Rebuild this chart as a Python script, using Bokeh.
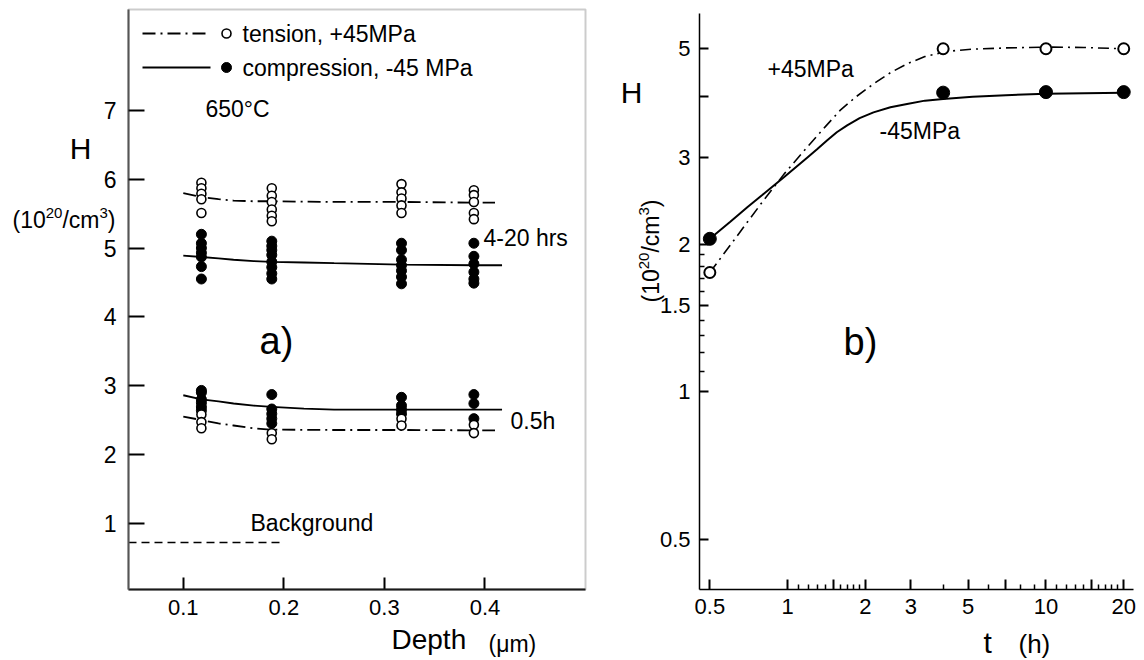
import math
from bokeh.plotting import figure
from bokeh.models import Range1d, FixedTicker, Label, BoxAnnotation
from bokeh.layouts import row
from bokeh.embed import file_html
from bokeh.resources import INLINE

FONT = "Liberation Sans"

# ---------------- data: panel a) (H vs depth) ----------------
depth_cols = [0.118, 0.188, 0.317, 0.389]
tens_long_pts = [[5.95, 5.87, 5.79, 5.71, 5.51],
                 [5.87, 5.76, 5.67, 5.56, 5.47, 5.39],
                 [5.93, 5.81, 5.72, 5.62, 5.51],
                 [5.84, 5.77, 5.67, 5.51, 5.42]]
comp_long_pts = [[5.20, 5.07, 5.00, 4.93, 4.87, 4.73, 4.55],
                 [5.10, 5.03, 4.97, 4.90, 4.80, 4.72, 4.63, 4.55],
                 [5.07, 4.97, 4.83, 4.75, 4.67, 4.58, 4.48],
                 [5.07, 4.88, 4.77, 4.65, 4.55, 4.49]]
comp_short_pts = [[2.93, 2.90, 2.80, 2.75, 2.69, 2.64],
                  [2.87, 2.66, 2.59, 2.52, 2.45],
                  [2.83, 2.71, 2.65, 2.59],
                  [2.87, 2.74, 2.52]]
tens_short_pts = [[2.58, 2.47, 2.38],
                  [2.31, 2.22],
                  [2.52, 2.42],
                  [2.43, 2.31]]

fit_depth_tens = [0.100, 0.118, 0.135, 0.150, 0.170, 0.188, 0.250, 0.317, 0.389, 0.410]
tens_long_fit = [5.80, 5.74, 5.71, 5.69, 5.68, 5.68, 5.67, 5.67, 5.66, 5.66]
tens_short_fit = [2.55, 2.50, 2.45, 2.42, 2.38, 2.36, 2.355, 2.355, 2.35, 2.35]
fit_depth_comp = [0.100, 0.118, 0.135, 0.150, 0.170, 0.188, 0.220, 0.250, 0.317, 0.389, 0.417]
comp_long_fit = [4.89, 4.87, 4.85, 4.83, 4.81, 4.80, 4.79, 4.78, 4.76, 4.75, 4.75]
comp_short_fit = [2.86, 2.80, 2.77, 2.74, 2.71, 2.69, 2.665, 2.65, 2.65, 2.65, 2.65]

background_depth_end = 0.2
background_level = 0.72

a_x_ticks = [0.1, 0.2, 0.3, 0.4]
a_y_ticks = [1, 2, 3, 4, 5, 6, 7]

# ---------------- data: panel b) (H vs time) ----------------
t_meas = [0.5, 4, 10, 20]
H_tension = [1.75, 5.0, 5.0, 5.0]
H_compression = [2.05, 4.07, 4.08, 4.08]
t_fit_tension = [0.5, 0.6, 0.7, 0.8, 0.97, 1.19, 1.4, 1.6, 1.85, 2.15, 2.5, 2.9, 3.4, 4, 4.5, 5.2, 7, 10, 14, 20]
H_fit_tension = [1.75, 1.99, 2.22, 2.44, 2.78, 3.15, 3.47, 3.75, 4.0, 4.24, 4.47, 4.66, 4.82, 4.92, 4.96,
                 4.99, 5.02, 5.04, 5.03, 5.0]
t_fit_comp = [0.5, 0.6, 0.7, 0.8, 0.97, 1.19, 1.3, 1.42, 1.55, 1.7, 1.9, 2.15, 2.5, 2.9, 3.4, 4, 5.2, 7, 10, 20]
H_fit_comp = [2.05, 2.22, 2.38, 2.52, 2.74, 3.0, 3.12, 3.25, 3.38, 3.49, 3.61, 3.71, 3.80, 3.86, 3.92,
              3.95, 3.99, 4.02, 4.05, 4.07]

b_y_major = [0.5, 1, 1.5, 2, 3, 4, 5]
b_y_labels = {0.5: "0.5", 1: "1", 1.5: "1.5", 2: "2", 3: "3", 4: "", 5: "5"}
b_y_minor = [1.1, 1.2, 1.3, 1.4, 1.6, 1.7, 1.8, 1.9]
b_x_major = [0.5, 1, 1.5, 2, 3, 5, 7, 10, 15, 20]
b_x_labels = {0.5: "0.5", 1: "1", 1.5: "", 2: "2", 3: "3", 5: "5", 7: "", 10: "10", 15: "", 20: "20"}
b_x_minor = [1.1, 1.2, 1.3, 1.4, 1.6, 1.7, 1.8, 1.9, 4, 6, 8, 9,
             11, 12, 13, 14, 16, 17, 18, 19]

# ---------------- layout geometry (page pixels) ----------------
A_X0, A_X1 = 0.0455, 0.5
A_Y0, A_Y1 = 0.036, 8.468
A_FL, A_FR, A_FT, A_FB = 128, 585, 9, 589
B_X0, B_X1 = 0.456, 21.82
B_Y0, B_Y1 = 0.3955, 5.90
B_FL, B_FR, B_FT, B_FB = 699, 1133, 13, 589
LEFT_W = 600
H_PX = 660


def ax(px):
    return A_X0 + (px - A_FL) / (A_FR - A_FL) * (A_X1 - A_X0)


def ay(py):
    return A_Y1 - (py - A_FT) / (A_FB - A_FT) * (A_Y1 - A_Y0)


def bx(px):
    lo, hi = math.log10(B_X0), math.log10(B_X1)
    return 10 ** (lo + (px - B_FL) / (B_FR - B_FL) * (hi - lo))


def by(py):
    lo, hi = math.log10(B_Y0), math.log10(B_Y1)
    return 10 ** (hi - (py - B_FT) / (B_FB - B_FT) * (hi - lo))


def label(p, mx, my, px, py, text, size, align="left", angle=0.0):
    p.add_layout(Label(x=mx(px), y=my(py), text=text, text_font=FONT,
                       text_font_size=f"{size}px", text_align=align,
                       text_baseline="middle", angle=angle, text_color="black"))


EM = {"(": 0.333, ")": 0.333, "/": 0.278, "c": 0.5, "m": 0.833}


def text_w(s, size):
    return sum(EM.get(ch, 0.556) for ch in s) * size


def unit_label(p, mx, my, px, py, vertical=False, size=23, sup=15):
    # (10^20/cm^3) built from pieces; (px, py) = start of text, middle line of main text
    pieces = [("(10", False), ("20", True), ("/cm", False), ("3", True), (")", False)]
    pos = px if not vertical else py
    for s, is_sup in pieces:
        fs = sup if is_sup else size
        if not vertical:
            yy = py - (7 if is_sup else 0)
            label(p, mx, my, pos, yy, s, fs)
            pos += text_w(s, fs)
        else:
            xx = px - (7 if is_sup else 0)
            label(p, mx, my, xx, pos, s, fs, angle=math.pi / 2)
            pos -= text_w(s, fs)


def style_axis(axis, size="23px"):
    axis.major_tick_out = 0
    axis.minor_tick_out = 0
    axis.major_tick_line_color = "black"
    axis.major_tick_line_width = 2
    axis.minor_tick_line_color = "black"
    axis.minor_tick_line_width = 1.5
    axis.major_label_text_font = FONT
    axis.major_label_text_font_size = size
    axis.major_label_text_color = "black"


# ================= panel a =================
p1 = figure(width=LEFT_W, height=H_PX, title=None,
            x_range=Range1d(ax(0), ax(LEFT_W)), y_range=Range1d(ay(H_PX), ay(0)),
            output_backend="svg", toolbar_location=None, min_border=0)
p1.grid.visible = False
p1.outline_line_color = None
p1.background_fill_color = "white"
p1.border_fill_color = "white"

p1.xaxis.ticker = FixedTicker(ticks=a_x_ticks)
p1.yaxis.ticker = FixedTicker(ticks=a_y_ticks)
p1.xaxis.fixed_location = A_Y0
p1.yaxis.fixed_location = A_X0
p1.xaxis.bounds = (A_X0, A_X1)
p1.yaxis.bounds = (A_Y0, A_Y1)
style_axis(p1.xaxis[0], "22px")
style_axis(p1.yaxis[0], "23px")
p1.xaxis.minor_tick_in = 0
p1.yaxis.minor_tick_in = 0
p1.xaxis.major_tick_in = 12
p1.yaxis.major_tick_in = 16
p1.xaxis.axis_line_color = "black"
p1.xaxis.axis_line_width = 2
p1.yaxis.axis_line_color = "#555555"
p1.yaxis.axis_line_width = 2
p1.xaxis.major_label_standoff = 10
p1.yaxis.major_label_standoff = 12

p1.add_layout(BoxAnnotation(left=A_X0, right=A_X1, bottom=A_Y0, top=A_Y1,
                            fill_alpha=0, line_color="#555555", line_width=2))

DASHDOT_A = "13 5 2 5"
p1.line(fit_depth_tens, tens_long_fit, line_color="black", line_width=1.8, line_dash=DASHDOT_A)
p1.line(fit_depth_comp, comp_long_fit, line_color="black", line_width=1.8)
p1.line(fit_depth_comp, comp_short_fit, line_color="black", line_width=1.8)
p1.line(fit_depth_tens, tens_short_fit, line_color="black", line_width=1.8, line_dash=DASHDOT_A)
p1.line([A_X0, background_depth_end], [background_level, background_level],
        line_color="black", line_width=1.5, line_dash="8 5")


def scatter_groups(groups, filled):
    xs, ys = [], []
    for d, vals in zip(depth_cols, groups):
        xs += [d] * len(vals)
        ys += vals
    if filled:
        p1.scatter(xs, ys, size=10, fill_color="black", line_color="black", line_width=1)
    else:
        p1.scatter(xs, ys, size=9, fill_color="white", line_color="black", line_width=1.6)


scatter_groups(comp_long_pts, True)
scatter_groups(comp_short_pts, True)
scatter_groups(tens_long_pts, False)
scatter_groups(tens_short_pts, False)

# legend
p1.line([ax(142), ax(210)], [ay(33)] * 2, line_color="black", line_width=1.8, line_dash=DASHDOT_A)
p1.scatter([ax(226)], [ay(33)], size=9, fill_color="white", line_color="black", line_width=1.6)
p1.line([ax(142), ax(210)], [ay(67)] * 2, line_color="black", line_width=1.8)
p1.scatter([ax(226)], [ay(67)], size=10, fill_color="black", line_color="black")
label(p1, ax, ay, 242, 33, "tension, +45MPa", 23)
label(p1, ax, ay, 242, 67, "compression, -45 MPa", 23)

label(p1, ax, ay, 205, 108, "650°C", 23)
label(p1, ax, ay, 483, 237, "4-20 hrs", 23)
label(p1, ax, ay, 259, 340, "a)", 38)
label(p1, ax, ay, 510, 420, "0.5h", 23)
label(p1, ax, ay, 250, 522, "Background", 23)
label(p1, ax, ay, 391, 639, "Depth", 28)
label(p1, ax, ay, 488, 643, "(μm)", 23)
label(p1, ax, ay, 80, 148, "H", 30, align="center")
unit_label(p1, ax, ay, 12, 219)

# ================= panel b =================
p2 = figure(width=1144 - LEFT_W, height=H_PX, title=None, x_axis_type="log", y_axis_type="log",
            x_range=Range1d(bx(LEFT_W), bx(1144)), y_range=Range1d(by(H_PX), by(0)),
            output_backend="svg", toolbar_location=None, min_border=0)
p2.grid.visible = False
p2.outline_line_color = None
p2.background_fill_color = "white"
p2.border_fill_color = "white"

p2.xaxis.ticker = FixedTicker(ticks=b_x_major, minor_ticks=b_x_minor)
p2.yaxis.ticker = FixedTicker(ticks=b_y_major, minor_ticks=b_y_minor)
p2.xaxis.major_label_overrides = b_x_labels
p2.yaxis.major_label_overrides = b_y_labels
p2.xaxis.fixed_location = B_Y0
p2.yaxis.fixed_location = B_X0
p2.xaxis.bounds = (B_X0, B_X1)
p2.yaxis.bounds = (B_Y0, B_Y1)
for axis in (p2.xaxis[0], p2.yaxis[0]):
    style_axis(axis, "22px")
    axis.minor_tick_in = 5
    axis.axis_line_color = "black"
    axis.axis_line_width = 1.5
    axis.major_label_standoff = 9
p2.xaxis.major_tick_in = 10
p2.yaxis.major_tick_in = 9

DASHDOT_B = "11 5 2 5"
p2.line(t_fit_tension, H_fit_tension, line_color="black", line_width=1.6, line_dash=DASHDOT_B)
p2.line(t_fit_comp, H_fit_comp, line_color="black", line_width=2)
p2.scatter(t_meas, H_compression, size=13, fill_color="black", line_color="black")
p2.scatter(t_meas, H_tension, size=11, fill_color="white", line_color="black", line_width=2)

label(p2, bx, by, 767, 68, "+45MPa", 23)
label(p2, bx, by, 879, 130, "-45MPa", 23)
label(p2, bx, by, 843, 341, "b)", 38)
label(p2, bx, by, 983, 642, "t", 30)
label(p2, bx, by, 1018, 643, "(h)", 26)
label(p2, bx, by, 631, 92, "H", 30, align="center")
unit_label(p2, bx, by, 650, 302, vertical=True)

layout = row(p1, p2)
open("out.html", "w").write(file_html(layout, INLINE))
